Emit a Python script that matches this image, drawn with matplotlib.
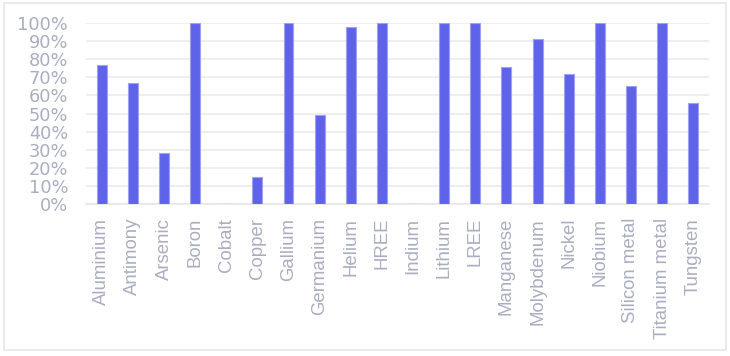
import matplotlib
matplotlib.use('Agg')
import matplotlib.pyplot as plt
import matplotlib.patches as patches
from matplotlib.ticker import PercentFormatter, MultipleLocator

materials = ['Aluminium', 'Antimony', 'Arsenic', 'Boron', 'Cobalt', 'Copper',
             'Gallium', 'Germanium', 'Helium', 'HREE', 'Indium', 'Lithium',
             'LREE', 'Manganese', 'Molybdenum', 'Nickel', 'Niobium',
             'Silicon metal', 'Titanium metal', 'Tungsten']
share = [77, 67, 28, 100, 0, 15, 100, 49, 98, 100, 0, 100, 100, 76, 91, 72,
         100, 65, 100, 56]

text_col = '#A9AEC0'
bar_col = '#5F63EA'

fig = plt.figure(figsize=(7.3, 3.56), dpi=100)
ax = fig.add_axes([0.118, 0.427, 0.853, 0.508])

# light frame round the whole chart
fig.patches.append(patches.Rectangle((0.006, 0.017), 0.988, 0.975,
                                     transform=fig.transFigure, fill=False,
                                     edgecolor='#E6E6E9', linewidth=1.2))

x = range(len(materials))
ax.bar(x, share, width=0.32, color=bar_col, edgecolor='#9EA0F2',
       linewidth=0.8, zorder=3)

ax.set_xlim(-0.5, len(materials) - 0.5)
ax.set_ylim(0, 100)
ax.yaxis.set_major_locator(MultipleLocator(10))
ax.yaxis.set_major_formatter(PercentFormatter(decimals=0))
ax.grid(axis='y', color='#E9E9EE', linewidth=1.1, zorder=0)
ax.set_axisbelow(True)

for s in ['top', 'right', 'left']:
    ax.spines[s].set_visible(False)
ax.spines['bottom'].set_color('#E4E4EA')
ax.spines['bottom'].set_linewidth(1.1)

ax.set_xticks(list(x))
ax.set_xticklabels(materials, rotation=90, family='Liberation Sans',
                   fontsize=13.4)
ax.tick_params(axis='both', length=0, colors=text_col)
ax.tick_params(axis='y', labelsize=12.8, pad=13)
ax.tick_params(axis='x', pad=10)

fig.savefig('out.png', dpi=100)
